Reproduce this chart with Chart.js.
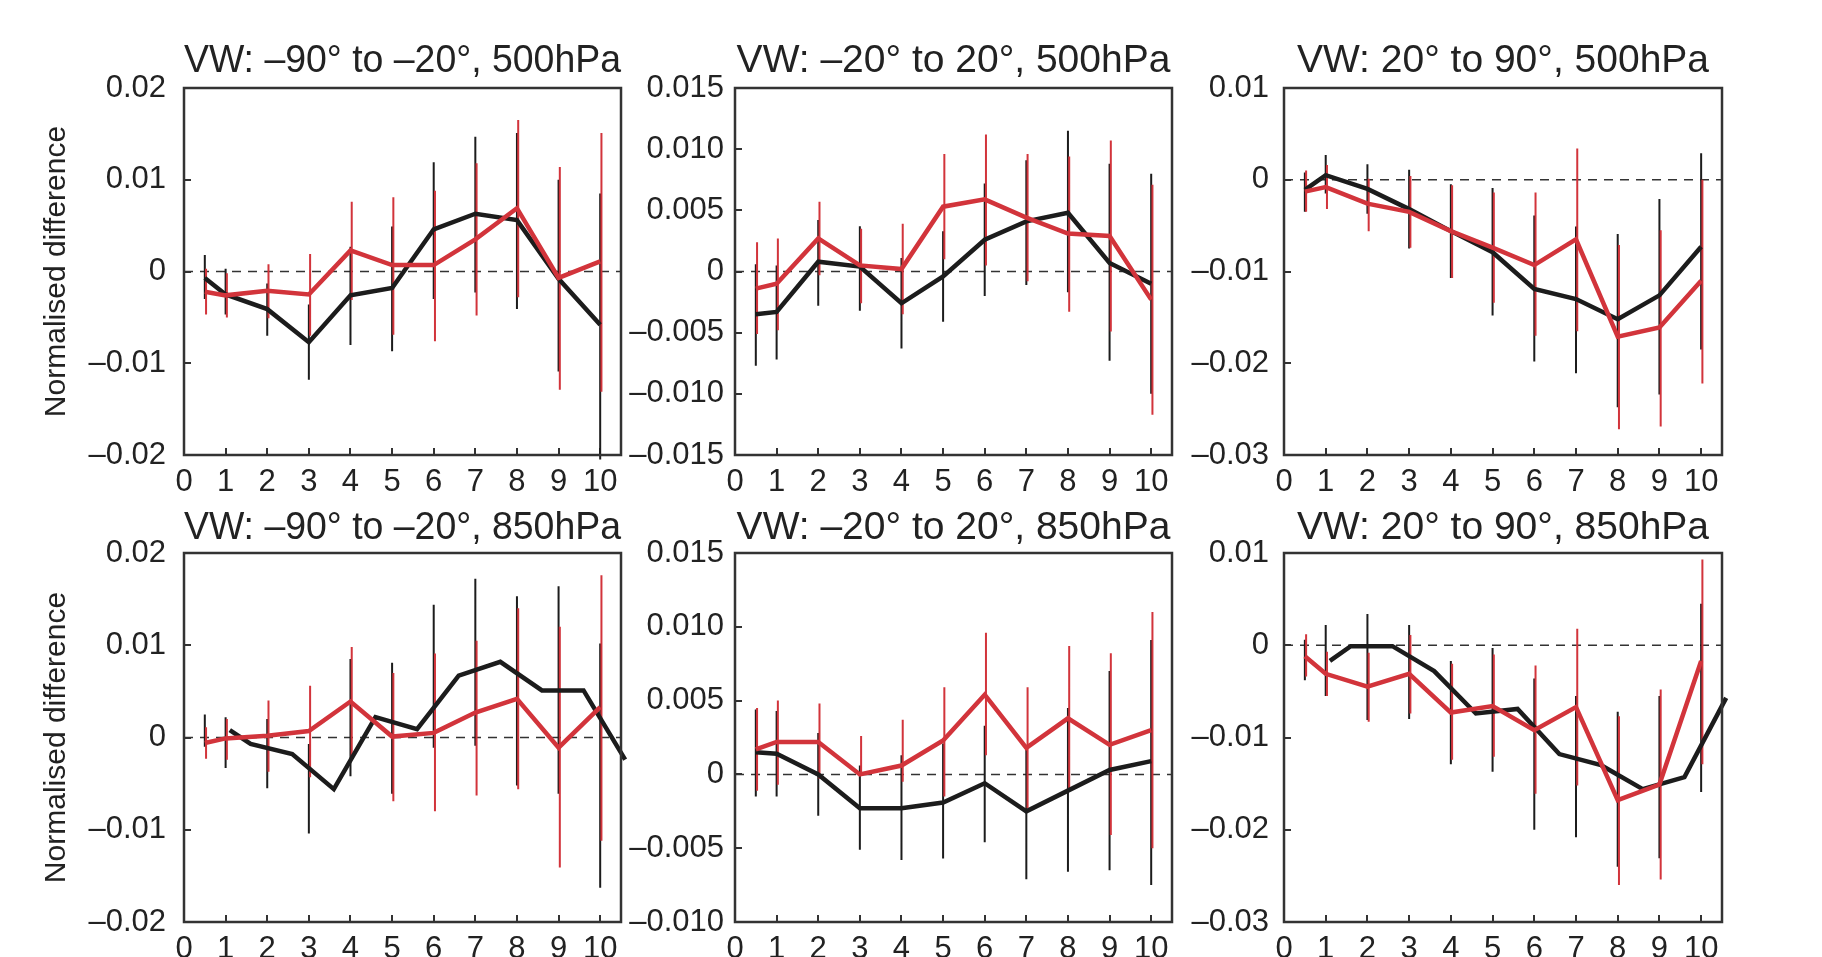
<!DOCTYPE html>
<html>
<head>
<meta charset="utf-8">
<script src="https://cdn.jsdelivr.net/npm/chart.js@4.4.0/dist/chart.umd.min.js"></script>
<style>
  body { margin: 0; background: #fff; width: 1822px; height: 957px; overflow: hidden; position: relative; }
  canvas { position: absolute; }
</style>
</head>
<body>
<script>
// lead time axis
const xTicks = [0, 1, 2, 3, 4, 5, 6, 7, 8, 9, 10];
const xMax = 10.5;
const leadTimes = [0.5, 1, 2, 3, 4, 5, 6, 7, 8, 9, 10];
// black curve in two 850hPa panels is drawn shifted along x
const leadTimesLagged = [1.1, 1.6, 2.6, 3.6, 4.6, 5.6, 6.6, 7.6, 8.6, 9.6, 10.6];

// y tick values / labels
const yTicksA = [-0.02, -0.01, 0, 0.01, 0.02];
const yLabelsA = ['–0.02', '–0.01', '0', '0.01', '0.02'];
const yTicksB = [-0.015, -0.01, -0.005, 0, 0.005, 0.01, 0.015];
const yLabelsB = ['–0.015', '–0.010', '–0.005', '0', '0.005', '0.010', '0.015'];
const yTicksC = [-0.03, -0.02, -0.01, 0, 0.01];
const yLabelsC = ['–0.03', '–0.02', '–0.01', '0', '0.01'];
const yTicksD = [-0.01, -0.005, 0, 0.005, 0.01, 0.015];
const yLabelsD = ['–0.010', '–0.005', '0', '0.005', '0.010', '0.015'];

const titles = [
  'VW: –90° to –20°, 500hPa', 'VW: –20° to 20°, 500hPa', 'VW: 20° to 90°, 500hPa',
  'VW: –90° to –20°, 850hPa', 'VW: –20° to 20°, 850hPa', 'VW: 20° to 90°, 850hPa'
];

// panel 1
const p1BlackMean = [-0.0007, -0.0025, -0.0041, -0.0077, -0.0026, -0.0018, 0.0046, 0.0063, 0.0056, -0.0008, -0.0058];
const p1BlackHi = [0.0018, 0.0003, -0.0013, -0.0036, 0.0027, 0.0049, 0.0119, 0.0147, 0.0151, 0.0100, 0.0085];
const p1BlackLo = [-0.0030, -0.0047, -0.0070, -0.0118, -0.0080, -0.0087, -0.0030, -0.0023, -0.0041, -0.0109, -0.0205];
const p1RedMean = [-0.0022, -0.0026, -0.0021, -0.0025, 0.0023, 0.0007, 0.0007, 0.0035, 0.0069, -0.0007, 0.0011];
const p1RedHi = [0.0003, -0.0002, 0.0008, 0.0019, 0.0076, 0.0081, 0.0088, 0.0118, 0.0165, 0.0114, 0.0151];
const p1RedLo = [-0.0047, -0.0050, -0.0051, -0.0070, -0.0031, -0.0069, -0.0076, -0.0048, -0.0028, -0.0129, -0.0131];

// panel 2
const p2BlackMean = [-0.0035, -0.0033, 0.0008, 0.0004, -0.0026, -0.0004, 0.0026, 0.0041, 0.0048, 0.0007, -0.0010];
const p2BlackHi = [0.0006, 0.0005, 0.0042, 0.0037, 0.0011, 0.0033, 0.0072, 0.0091, 0.0115, 0.0088, 0.0080];
const p2BlackLo = [-0.0077, -0.0072, -0.0028, -0.0032, -0.0063, -0.0041, -0.0020, -0.0011, -0.0017, -0.0073, -0.0100];
const p2RedMean = [-0.0014, -0.0010, 0.0027, 0.0005, 0.0002, 0.0053, 0.0059, 0.0044, 0.0031, 0.0029, -0.0023];
const p2RedHi = [0.0024, 0.0027, 0.0057, 0.0035, 0.0039, 0.0096, 0.0112, 0.0096, 0.0094, 0.0107, 0.0071];
const p2RedLo = [-0.0051, -0.0048, -0.0003, -0.0026, -0.0035, 0.0010, 0.0005, -0.0008, -0.0033, -0.0049, -0.0117];

// panel 3
const p3BlackMean = [-0.0011, 0.0005, -0.0010, -0.0032, -0.0056, -0.0079, -0.0119, -0.0130, -0.0152, -0.0126, -0.0073];
const p3BlackHi = [0.0008, 0.0027, 0.0017, 0.0011, -0.0005, -0.0009, -0.0039, -0.0051, -0.0059, -0.0021, 0.0029];
const p3BlackLo = [-0.0035, -0.0015, -0.0037, -0.0075, -0.0107, -0.0148, -0.0198, -0.0211, -0.0248, -0.0234, -0.0185];
const p3RedMean = [-0.0013, -0.0008, -0.0026, -0.0035, -0.0056, -0.0074, -0.0093, -0.0065, -0.0171, -0.0161, -0.0110];
const p3RedHi = [0.0010, 0.0016, 0.0001, 0.0004, -0.0006, -0.0014, -0.0014, 0.0034, -0.0071, -0.0055, 0.0000];
const p3RedLo = [-0.0035, -0.0032, -0.0056, -0.0074, -0.0107, -0.0134, -0.0170, -0.0165, -0.0272, -0.0269, -0.0222];

// panel 4
const p4BlackMean = [0.0008, -0.0007, -0.0018, -0.0056, 0.0022, 0.0009, 0.0067, 0.0082, 0.0051, 0.0051, -0.0024];
const p4BlackHi = [0.0025, 0.0022, 0.0020, -0.0007, 0.0085, 0.0081, 0.0144, 0.0172, 0.0153, 0.0164, 0.0102];
const p4BlackLo = [-0.0010, -0.0033, -0.0055, -0.0104, -0.0042, -0.0061, -0.0011, -0.0009, -0.0052, -0.0061, -0.0163];
const p4RedMean = [-0.0006, -0.0001, 0.0002, 0.0007, 0.0039, 0.0001, 0.0005, 0.0027, 0.0042, -0.0011, 0.0033];
const p4RedHi = [0.0011, 0.0020, 0.0040, 0.0056, 0.0098, 0.0070, 0.0091, 0.0105, 0.0140, 0.0120, 0.0176];
const p4RedLo = [-0.0023, -0.0024, -0.0037, -0.0043, -0.0022, -0.0069, -0.0080, -0.0063, -0.0056, -0.0141, -0.0112];

// panel 5
const p5BlackMean = [0.0015, 0.0014, 0.0000, -0.0023, -0.0023, -0.0019, -0.0006, -0.0025, -0.0011, 0.0003, 0.0009];
const p5BlackHi = [0.0044, 0.0043, 0.0028, 0.0006, 0.0013, 0.0021, 0.0033, 0.0020, 0.0045, 0.0070, 0.0091];
const p5BlackLo = [-0.0015, -0.0015, -0.0028, -0.0051, -0.0058, -0.0057, -0.0046, -0.0071, -0.0066, -0.0065, -0.0075];
const p5RedMean = [0.0017, 0.0022, 0.0022, 0.0000, 0.0006, 0.0023, 0.0054, 0.0018, 0.0038, 0.0020, 0.0030];
const p5RedHi = [0.0045, 0.0050, 0.0048, 0.0026, 0.0037, 0.0059, 0.0096, 0.0059, 0.0087, 0.0082, 0.0110];
const p5RedLo = [-0.0011, -0.0007, -0.0003, -0.0001, -0.0005, -0.0015, 0.0013, -0.0023, -0.0010, -0.0041, -0.0050];

// panel 6
const p6BlackMean = [-0.0017, -0.0001, -0.0001, -0.0028, -0.0074, -0.0069, -0.0118, -0.0130, -0.0156, -0.0143, -0.0057];
const p6BlackHi = [0.0006, 0.0022, 0.0034, 0.0022, -0.0017, -0.0003, -0.0036, -0.0055, -0.0072, -0.0055, 0.0045];
const p6BlackLo = [-0.0038, -0.0055, -0.0081, -0.0080, -0.0129, -0.0137, -0.0200, -0.0208, -0.0240, -0.0231, -0.0159];
const p6RedMean = [-0.0012, -0.0031, -0.0045, -0.0031, -0.0073, -0.0066, -0.0092, -0.0067, -0.0168, -0.0151, -0.0017];
const p6RedHi = [0.0012, -0.0007, -0.0008, 0.0011, -0.0020, -0.0010, -0.0022, 0.0018, -0.0077, -0.0048, 0.0093];
const p6RedLo = [-0.0034, -0.0055, -0.0083, -0.0074, -0.0124, -0.0121, -0.0161, -0.0152, -0.0260, -0.0254, -0.0129];

const RED = '#d2343b';
const BLACK = '#1c1c1c';
const FRAME = '#333';
const TEXT = '#222';

// page layout (pixels)
const colLeft = [0, 620, 1170];
const boxLeft = [184, 735, 1284];
const boxWidth = [437, 437, 438];
const rowTop = [38, 505];
const titleH = [50, 48];
const boxHeight = [367, 369];
const xAxisH = 50;
const rightPad = 20;
const yLabelGap = [18, 11, 15];
const titleSize = 39;

Chart.defaults.font.family = '"Liberation Sans", Arial, Helvetica, sans-serif';
Chart.defaults.color = TEXT;

const panels = [
  { yMin: -0.02, yMax: 0.02, yTicks: yTicksA, yLabels: yLabelsA, bx: leadTimes, bm: p1BlackMean, bh: p1BlackHi, bl: p1BlackLo, rm: p1RedMean, rh: p1RedHi, rl: p1RedLo },
  { yMin: -0.015, yMax: 0.015, yTicks: yTicksB, yLabels: yLabelsB, bx: leadTimes, bm: p2BlackMean, bh: p2BlackHi, bl: p2BlackLo, rm: p2RedMean, rh: p2RedHi, rl: p2RedLo },
  { yMin: -0.03, yMax: 0.01, yTicks: yTicksC, yLabels: yLabelsC, bx: leadTimes, bm: p3BlackMean, bh: p3BlackHi, bl: p3BlackLo, rm: p3RedMean, rh: p3RedHi, rl: p3RedLo },
  { yMin: -0.02, yMax: 0.02, yTicks: yTicksA, yLabels: yLabelsA, bx: leadTimesLagged, bm: p4BlackMean, bh: p4BlackHi, bl: p4BlackLo, rm: p4RedMean, rh: p4RedHi, rl: p4RedLo },
  { yMin: -0.01, yMax: 0.015, yTicks: yTicksD, yLabels: yLabelsD, bx: leadTimes, bm: p5BlackMean, bh: p5BlackHi, bl: p5BlackLo, rm: p5RedMean, rh: p5RedHi, rl: p5RedLo },
  { yMin: -0.03, yMax: 0.01, yTicks: yTicksC, yLabels: yLabelsC, bx: leadTimesLagged, bm: p6BlackMean, bh: p6BlackHi, bl: p6BlackLo, rm: p6RedMean, rh: p6RedHi, rl: p6RedLo }
];

function linePoints(xs, ys) {
  return xs.map((x, i) => ({ x: x, y: ys[i] }));
}

// vertical error bars as one line dataset, broken by nulls
function barPoints(xs, lo, hi, shift) {
  const pts = [];
  xs.forEach((x, i) => {
    pts.push({ x: x + shift, y: lo[i] }, { x: x + shift, y: hi[i] }, { x: x + shift, y: null });
  });
  return pts;
}

const framePlugin = {
  id: 'frame',
  afterDatasetsDraw(chart) {
    const { ctx, chartArea: a } = chart;
    ctx.save();
    ctx.strokeStyle = FRAME;
    ctx.lineWidth = 2.5;
    ctx.strokeRect(a.left, a.top, a.right - a.left, a.bottom - a.top);
    ctx.restore();
  }
};

panels.forEach((p, k) => {
  const col = k % 3, row = Math.floor(k / 3);
  const yw = boxLeft[col] - colLeft[col];
  const canvas = document.createElement('canvas');
  canvas.width = yw + boxWidth[col] + rightPad;
  canvas.height = titleH[row] + boxHeight[row] + xAxisH;
  canvas.style.left = colLeft[col] + 'px';
  canvas.style.top = rowTop[row] + 'px';
  document.body.appendChild(canvas);

  const line = (data, color, width, extra) => Object.assign({
    data: data, borderColor: color, borderWidth: width, pointRadius: 0,
    tension: 0, fill: false, clip: false, spanGaps: false
  }, extra || {});

  new Chart(canvas, {
    type: 'line',
    data: {
      datasets: [
        line(linePoints(leadTimes, p.rm), RED, 4.5),
        line(linePoints(p.bx, p.bm), BLACK, 4.5),
        line(barPoints(leadTimes, p.rl, p.rh, 0.03), RED, 2),
        line(barPoints(leadTimes, p.bl, p.bh, 0), BLACK, 2),
        line([{ x: xTicks[0], y: 0 }, { x: xMax, y: 0 }], '#333', 1.5, { borderDash: [9, 7] })
      ]
    },
    options: {
      responsive: false,
      animation: false,
      devicePixelRatio: 1,
      layout: { padding: { left: 0, top: 0, right: rightPad, bottom: 0 } },
      plugins: {
        legend: { display: false },
        tooltip: { enabled: false },
        title: {
          display: true,
          text: titles[k],
          fullSize: false,
          color: TEXT,
          font: { size: titleSize, weight: 'normal' },
          padding: { top: 0, bottom: titleH[row] - titleSize * 1.2 }
        }
      },
      scales: {
        x: {
          type: 'linear',
          min: 0,
          max: xMax,
          afterBuildTicks: s => { s.ticks = xTicks.map(v => ({ value: v })); },
          afterFit: s => { s.height = xAxisH; s.paddingLeft = 0; s.paddingRight = 0; },
          grid: { display: true, drawOnChartArea: false, drawTicks: true, tickLength: -7, color: FRAME, lineWidth: 2 },
          border: { display: false },
          ticks: { autoSkip: false, maxRotation: 0, padding: 16, color: TEXT, font: { size: 31 }, callback: (v, i) => String(xTicks[i]) }
        },
        y: {
          min: p.yMin,
          max: p.yMax,
          afterBuildTicks: s => { s.ticks = p.yTicks.map(v => ({ value: v })); },
          afterFit: s => { s.width = yw; s.paddingTop = 0; s.paddingBottom = 0; },
          grid: { display: true, drawOnChartArea: false, drawTicks: true, tickLength: -7, color: FRAME, lineWidth: 2 },
          border: { display: false },
          ticks: { padding: yLabelGap[col] + 7, color: TEXT, font: { size: 31 }, callback: (v, i) => p.yLabels[i] },
          title: {
            display: col === 0,
            text: 'Normalised difference',
            color: TEXT,
            font: { size: 30 },
            padding: { top: 39, bottom: 0 }
          }
        }
      }
    },
    plugins: [framePlugin]
  });
});
</script>
</body>
</html>
